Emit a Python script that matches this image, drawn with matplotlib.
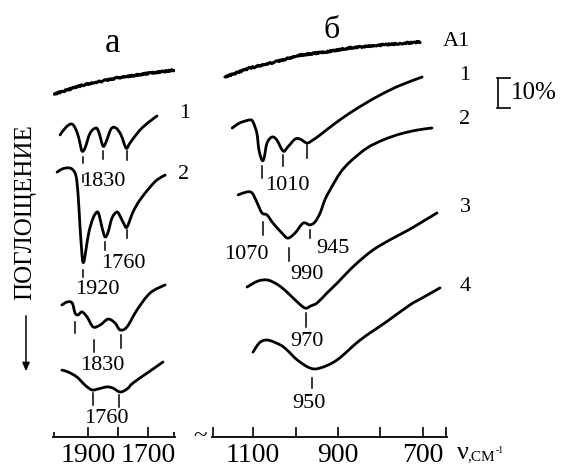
import matplotlib
matplotlib.use("Agg")
import matplotlib.pyplot as plt
import matplotlib.transforms as mtransforms
from matplotlib.lines import Line2D
from matplotlib.path import Path
from matplotlib.patches import PathPatch, FancyArrowPatch

plt.rcParams['font.family'] = ['Liberation Serif', 'DejaVu Serif']

W, H = 564, 469

# ---------------- data (wavenumber, relative signal in % units) ----------------
# panel "а" (1600-2000 cm-1)
a_A1_wn = [2013, 1917, 1803, 1693, 1613]
a_A1_y = [114.3, 117.3, 119.7, 121.3, 122.3]

a1_wn = [1993, 1973, 1953, 1937, 1927, 1920, 1910, 1893, 1873, 1863, 1850, 1840,
         1823, 1807, 1790, 1773, 1760, 1727, 1693, 1670]
a1_y = [100.7, 103.3, 104.3, 101.7, 98.0, 95.3, 96.3, 101.3, 103.0, 101.3, 97.0, 98.3,
        102.7, 103.0, 100.7, 96.3, 98.0, 102.3, 105.3, 107.0]

a2_wn = [2003, 1987, 1970, 1953, 1940, 1933, 1927, 1920, 1917, 1913, 1907, 1897, 1883,
         1870, 1863, 1853, 1843, 1833, 1820, 1803, 1790, 1780, 1770, 1750, 1727, 1693,
         1670, 1643]
a2_y = [88.3, 89.3, 89.7, 89.3, 87.0, 80.7, 70.7, 60.7, 58.3, 58.7, 62.3, 68.3, 73.0,
        75.0, 74.0, 69.7, 66.7, 68.3, 73.0, 75.0, 73.0, 71.0, 70.0, 75.0, 79.0, 83.3,
        85.7, 87.3]

a3_wn = [1987, 1970, 1953, 1943, 1933, 1920, 1903, 1883, 1860, 1833, 1810, 1793, 1770,
         1737, 1693, 1643]
a3_y = [44.0, 45.0, 44.7, 41.3, 40.7, 41.7, 40.0, 36.7, 37.3, 39.3, 38.0, 35.7, 36.7,
        42.3, 48.0, 50.7]

a4_wn = [1987, 1967, 1937, 1910, 1887, 1867, 1837, 1817, 1793, 1770, 1750, 1703, 1650]
a4_y = [22.3, 21.7, 20.0, 17.3, 15.7, 16.0, 16.7, 16.3, 15.0, 16.0, 18.0, 21.3, 25.0]

# peak markers: (wavenumber, y_top, y_bottom)
a_marks = [(1917, 93.3, 91.3), (1917, 87.3, 85.0), (1850, 95.3, 92.7), (1770, 95.3, 92.3),
           (1917, 55.7, 53.3), (1843, 65.0, 62.3), (1770, 69.0, 66.3),
           (1943, 38.3, 34.7), (1880, 32.3, 28.3), (1790, 34.0, 29.7),
           (1883, 14.7, 10.7), (1797, 14.0, 10.0)]
a_labels = [("1830", 1850, 85.3), ("1760", 1783, 57.7), ("1920", 1870, 49.0),
            ("1830", 1853, 24.0), ("1760", 1840, 6.3)]
a_ticks = [1900, 1800, 1700]
a_ticklabels = ["1900", "", "1700"]

# panel "б" (650-1200 cm-1)
b_A1_wn = [1166, 1107, 1048, 989, 931, 872, 794, 707]
b_A1_y = [120.0, 123.0, 125.0, 127.3, 128.3, 129.7, 130.7, 131.7]

b1_wn = [1149, 1131, 1107, 1100, 1091, 1086, 1079, 1074, 1067, 1055, 1044, 1029, 1018,
         1001, 989, 973, 959, 942, 912, 872, 832, 794, 754, 702]
b1_y = [103.0, 104.7, 105.7, 105.0, 101.3, 95.7, 92.3, 93.0, 98.0, 100.0, 99.0, 95.3,
        96.7, 99.3, 99.3, 98.0, 99.0, 100.7, 104.0, 108.0, 111.5, 114.5, 117.2, 120.0]

b2_wn = [1135, 1114, 1102, 1091, 1079, 1067, 1053, 1032, 1018, 1001, 982, 966, 954, 942,
         931, 919, 895, 872, 832, 794, 754, 714, 679]
b2_y = [80.7, 81.7, 81.3, 78.3, 74.7, 74.0, 71.3, 68.0, 66.3, 68.0, 71.3, 70.7, 71.7,
        74.7, 79.0, 82.3, 88.0, 91.7, 96.3, 99.0, 101.0, 102.3, 103.0]

b3_wn = [1114, 1088, 1065, 1041, 1020, 1001, 978, 964, 949, 926, 902, 879, 855, 818,
         778, 738, 702, 667]
b3_y = [50.0, 52.0, 52.3, 50.7, 48.3, 45.7, 43.0, 43.7, 44.7, 48.0, 51.3, 54.7, 58.0,
        62.3, 65.7, 68.7, 71.7, 74.7]

b4_wn = [1100, 1084, 1065, 1036, 1020, 996, 966, 942, 902, 848, 785, 731, 700, 660]
b4_y = [28.3, 31.5, 32.3, 30.7, 29.0, 25.7, 23.0, 23.0, 25.7, 32.3, 38.5, 44.0, 46.5,
        49.7]

b_marks = [(1079, 90.3, 86.3), (1029, 94.0, 90.3), (973, 97.3, 93.0),
           (1076, 71.7, 67.3), (1015, 63.0, 58.7), (966, 69.0, 66.3),
           (975, 41.3, 36.7), (961, 19.7, 16.3)]
b_labels = [("1010", 1018, 83.7), ("1070", 1116, 60.7), ("990", 973, 54.3),
            ("945", 912, 63.0), ("970", 973, 32.0), ("950", 968, 11.3)]
b_ticks = [1195, 1100, 1000, 900, 800, 700, 645]
b_ticklabels = ["", "1100", "", "900", "", "700", ""]

scale_bar = (109.7, 119.7)   # 10 %

# ---------------- figure ----------------
fig = plt.figure(figsize=(W / 100, H / 100), dpi=100)
fig.patch.set_facecolor("white")

def fx(px):
    return px / W

def fy(py):
    return 1 - py / H

y0 = fy(437)
hh = 1 - y0
ax_a = fig.add_axes([fx(53), y0, fx(175) - fx(53), hh])
ax_b = fig.add_axes([fx(212), y0, fx(447) - fx(212), hh])

YMAX = 437 / 3
for ax in (ax_a, ax_b):
    ax.set_ylim(0, YMAX)
    ax.patch.set_alpha(0)
    for s in ("top", "left", "right"):
        ax.spines[s].set_visible(False)
    ax.spines["bottom"].set_linewidth(1.3)
    ax.set_yticks([])
    ax.tick_params(axis="x", direction="in", length=7, width=1.2, pad=4,
                   labelsize=20)

ax_a.set_xlim(2016.7, 1610)
ax_a.set_xticks(a_ticks)
ax_a.set_xticklabels(a_ticklabels)
ax_a.set_xticks([2014, 1613], minor=True)
ax_a.tick_params(axis="x", which="minor", direction="in", length=3.5, width=1.2)

ax_b.set_xlim(1196.5, 643.5)
ax_b.set_xticks(b_ticks)
ax_b.set_xticklabels(b_ticklabels)


def smooth_curve(ax, xs, ys, lw):
    """Draw a smooth (Catmull-Rom -> cubic Bezier) path through the points."""
    pts = list(zip(xs, ys))
    n = len(pts)
    verts = [pts[0]]
    codes = [Path.MOVETO]
    for i in range(n - 1):
        p0 = pts[i - 1] if i > 0 else pts[i]
        p1 = pts[i]
        p2 = pts[i + 1]
        p3 = pts[i + 2] if i + 2 < n else pts[i + 1]
        c1 = (p1[0] + (p2[0] - p0[0]) / 6.0, p1[1] + (p2[1] - p0[1]) / 6.0)
        c2 = (p2[0] - (p3[0] - p1[0]) / 6.0, p2[1] - (p3[1] - p1[1]) / 6.0)
        verts += [c1, c2, p2]
        codes += [Path.CURVE4] * 3
    patch = PathPatch(Path(verts, codes), facecolor="none", edgecolor="black",
                      lw=lw, joinstyle="round", capstyle="round")
    ax.add_patch(patch)


LW = 2.0
# noisy reference spectra A1
for ax, xw, yv in ((ax_a, a_A1_wn, a_A1_y), (ax_b, b_A1_wn, b_A1_y)):
    ln, = ax.plot(xw, yv, color="black", lw=2.2, solid_capstyle="round")
    ln.set_sketch_params(scale=0.7, length=1.2, randomness=2.0)

for xw, yv in ((a1_wn, a1_y), (a2_wn, a2_y), (a3_wn, a3_y), (a4_wn, a4_y)):
    smooth_curve(ax_a, xw, yv, LW)
for xw, yv in ((b1_wn, b1_y), (b2_wn, b2_y), (b3_wn, b3_y), (b4_wn, b4_y)):
    smooth_curve(ax_b, xw, yv, LW)

for ax, marks, labels in ((ax_a, a_marks, a_labels), (ax_b, b_marks, b_labels)):
    for wn, yt, yb in marks:
        ax.plot([wn, wn], [yt, yb], color="black", lw=1.1)
    for txt, wn, yv in labels:
        ax.text(wn, yv, txt, ha="center", va="center", fontsize=16)

# scale bar (10 %)
tr = mtransforms.blended_transform_factory(fig.transFigure, ax_b.transData)
for seg in (([fx(498), fx(498)], [scale_bar[0], scale_bar[1]]),
            ([fx(497), fx(510)], [scale_bar[1], scale_bar[1]]),
            ([fx(497), fx(510)], [scale_bar[0], scale_bar[0]])):
    fig.add_artist(Line2D(seg[0], seg[1], transform=tr, color="black", lw=1.2))
fig.text(fx(511), fy(93), "10%", fontsize=18, ha="left", va="center")

# panel letters & curve numbers
fig.text(fx(113), fy(44), "а", fontsize=25, ha="center", va="center")
fig.text(fx(332), fy(30), "б", fontsize=23, ha="center", va="center")
fig.text(fx(185), fy(114), "1", fontsize=16, ha="center", va="center")
fig.text(fx(184), fy(174), "2", fontsize=16, ha="center", va="center")
fig.text(fx(456), fy(42), "А1", fontsize=16, ha="center", va="center")
for lab, py in (("1", 75), ("2", 119), ("3", 207), ("4", 286)):
    fig.text(fx(465), fy(py), lab, fontsize=16, ha="center", va="center")

# y label with arrow
fig.text(fx(25), fy(212), "ПОГЛОЩЕНИЕ", rotation=90, fontsize=18,
         ha="center", va="center")
fig.add_artist(FancyArrowPatch(
    (fx(26), fy(313)), (fx(26), fy(374)), transform=fig.transFigure,
    arrowstyle="-|>,head_length=5,head_width=2.2", color="black", lw=1.1,
    mutation_scale=1))

# axis break and unit label
fig.text(fx(200), fy(436), "~", fontsize=18, ha="center", va="center")
fig.text(fx(457), fy(453), "ν", fontsize=19, ha="left", va="center")
fig.text(fx(467), fy(457), ",СМ", fontsize=11, ha="left", va="center")
fig.text(fx(496), fy(450), "-1", fontsize=7, ha="left", va="center")

fig.savefig("out.png", dpi=100, facecolor="white")
